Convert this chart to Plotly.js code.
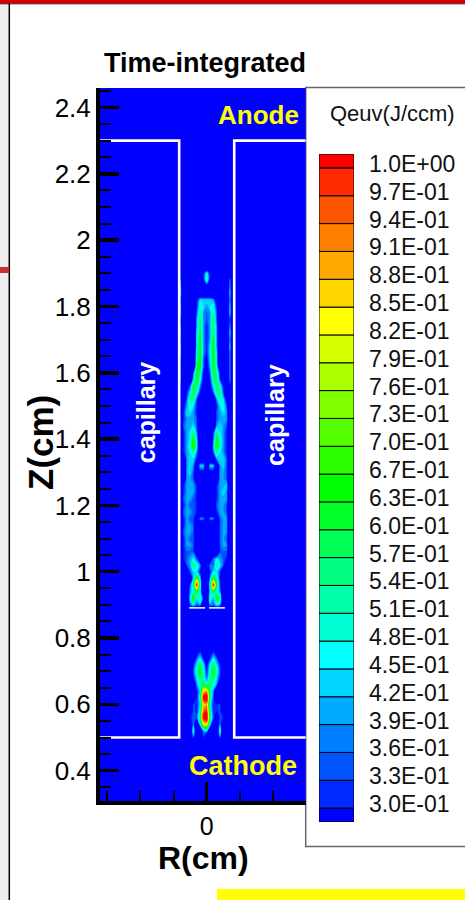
<!DOCTYPE html>
<html><head><meta charset="utf-8">
<script src="https://cdn.plot.ly/plotly-3.0.1.min.js"></script>
<style>html,body{margin:0;padding:0;background:#fff;}#plot{width:465px;height:900px;}</style>
</head><body><div id="plot"></div>
<script>
// ---------------- data ----------------
// radial grid (cm) inside the bore
const rGrid = [-0.09, -0.08, -0.07, -0.06, -0.05, -0.04, -0.03, -0.02, -0.01, 0,
               0.01, 0.02, 0.03, 0.04, 0.05, 0.06, 0.07, 0.08, 0.09];
// frame padding (background everywhere outside the grid)
const rPad = [-0.33, 0.33];
// axial grid (cm), top to bottom (first and last entries are frame padding)
const zGrid = [2.47, 1.92, 1.90, 1.88, 1.86, 1.84, 1.82, 1.80, 1.78, 1.76, 1.74, 1.72, 1.70,
               1.68, 1.66, 1.64, 1.62, 1.60, 1.58, 1.56, 1.54, 1.52, 1.50, 1.48, 1.46,
               1.44, 1.42, 1.40, 1.38, 1.36, 1.34, 1.32, 1.30, 1.28, 1.26, 1.24, 1.22,
               1.20, 1.18, 1.16, 1.14, 1.12, 1.10, 1.08, 1.06, 1.04, 1.02, 1.00, 0.98,
               0.96, 0.94, 0.92, 0.90, 0.88, 0.86, 0.84, 0.82, 0.80, 0.78, 0.76, 0.74,
               0.72, 0.70, 0.68, 0.66, 0.64, 0.62, 0.60, 0.58, 0.56, 0.54, 0.52, 0.50,
               0.48, 0.30];
// Qeuv: one char per node (base-36 digit x 0.05 J/ccm),
// rows follow zGrid, columns follow rGrid
const qRows = [
  "0000000000000000000", // 2.47
  "0000000000000000000", // 1.92
  "000000005a500000000",
  "080000005b500000800",
  "0900000004000000800",
  "0a00000000000000900",
  "0800005999984000800", // 1.82
  "0900006a989a6000900",
  "0900007b878b7000900",
  "0700008c878c7000700",
  "0800008c868c8000800",
  "0900009c868c8000900", // 1.72
  "0800009d868d8000800",
  "0900009d869d8000900",
  "090000ad869d9000800",
  "080000bd759d9000800",
  "080000cd758da000800", // 1.62
  "080007db647cb600800",
  "080009da506bc700800",
  "06007cc84059ca60600",
  "00069ca60007bb70000",
  "0007bb7000008b95000", // 1.52
  "0058a960000069a7000",
  "0069986000007898000",
  "0068887000007888000",
  "0078897000008987000",
  "00689b800006b986000", // 1.42
  "00689d900007da86000",
  "0068aea00008ea86000",
  "00689b800007b986000",
  "0008996000008997000",
  "0008980990990897000", // 1.32
  "0008970550550887000",
  "0008870000000887000",
  "0068886000006889000",
  "0068886000006898000",
  "0078876000006888000", // 1.22
  "0068776000007887000",
  "0078876000006887000",
  "0068770880880788000",
  "0068870000000788000",
  "0078870000000788000", // 1.12
  "0068770000000787000",
  "0068870000000788000",
  "0067770000000777000",
  "0067897000079876000",
  "00078ba80087b970000", // 1.02
  "0000799600699700000",
  "000009e9008db600000",
  "00007blb00alc700000",
  "00008aca009ca800000",
  "00009e9b60b8dc00000", // 0.92
  "0000797800879800000",
  "0000000000000000000",
  "0000000000000000000",
  "0000000000000000000",
  "0000000000000000000", // 0.82
  "0000000000000000000",
  "0000000000000000000",
  "0000000600060000000",
  "0000007960697000000",
  "0000069c959c9600000", // 0.72
  "000007ada6ada700000",
  "0000069cb7bc9600000",
  "0000008acaca8000000",
  "00000069hib80000000",
  "0000006almb70000000", // 0.62
  "00000769hia66700000",
  "0000076ajkb66700000",
  "0000677blmb70760000",
  "00000809gha00800000",
  "00000b0089000b00000", // 0.52
  "0000070060000700000",
  "0000000000000000000",
  "0000000000000000000"  // 0.30
];
// contour levels of the legend
const levelStart = 0.30, levelEnd = 1.00, levelCount = 24;
const levelLabels = ['3.0E-01','3.3E-01','3.6E-01','3.9E-01','4.2E-01','4.5E-01','4.8E-01','5.1E-01',
  '5.4E-01','5.7E-01','6.0E-01','6.3E-01','6.7E-01','7.0E-01','7.3E-01','7.6E-01','7.9E-01',
  '8.2E-01','8.5E-01','8.8E-01','9.1E-01','9.4E-01','9.7E-01','1.0E+00'];
const bandColors = ['#0000FF','#002AFF','#0055FF','#0080FF','#00AAFF','#00D5FF','#00FFFF','#00FFD5',
  '#00FFAA','#00FF80','#00FF55','#00FF2A','#00FF00','#2AFF00','#55FF00','#80FF00','#AAFF00',
  '#D5FF00','#FFFF00','#FFD500','#FFAA00','#FF8000','#FF5500','#FF2A00','#FF0000'];
// capillary outline (white) and the two short white marks
const capLeftR = [-0.40, -0.083, -0.083, -0.40];
const capLeftZ = [2.30, 2.30, 0.50, 0.50];
const capRightR = [0.40, 0.083, 0.083, 0.40];
const capRightZ = [2.30, 2.30, 0.50, 0.50];
const markR = [-0.053, -0.005, null, 0.007, 0.055];
const markZ = [0.891, 0.891, null, 0.891, 0.891];

// ---------------- build ----------------
qRows.forEach((s, i) => { if (s.length !== rGrid.length) throw new Error('row ' + i + ' has ' + s.length); });
if (qRows.length !== zGrid.length) throw new Error('rows ' + qRows.length + ' vs ' + zGrid.length);

const FONT = 'Liberation Sans, Arial, Helvetica, sans-serif';
const W = 465, H = 900, ML = 100, MR = 0, MT = 80, MB = 70;
const PW = W - ML - MR, PH = H - MT - MB;
const px = v => (v - ML) / PW;
const py = v => (H - MB - v) / PH;

const xAll = [rPad[0]].concat(rGrid, [rPad[1]]);
const zAsc = zGrid.slice().reverse();
const zMatrix = qRows.slice().reverse().map(s => [0].concat(s.split('').map(ch => parseInt(ch, 36) * 0.05), [0]));

const step = (levelEnd - levelStart) / (levelCount - 1);
const levels = levelLabels.map((_, k) => levelStart + k * step);
const colorscale = bandColors.map((c, k) => [k / (bandColors.length - 1), c]);

const swBase = [levelStart - step / 2].concat(levels);
const swTop = levels.concat([levelEnd + step / 2]);
const swH = swTop.map((t, i) => t - swBase[i]);

const traces = [
  {
    type: 'contour', x: xAll, y: zAsc, z: zMatrix,
    autocontour: false,
    contours: {start: levelStart, end: levelEnd, size: step, coloring: 'fill', showlines: false},
    line: {width: 0, smoothing: 1},
    colorscale: colorscale, showscale: false, hoverinfo: 'skip', xaxis: 'x', yaxis: 'y'
  },
  {type: 'scatter', mode: 'lines', x: capLeftR, y: capLeftZ, line: {color: '#FFFFFF', width: 2.6},
   hoverinfo: 'skip', showlegend: false, xaxis: 'x', yaxis: 'y'},
  {type: 'scatter', mode: 'lines', x: capRightR, y: capRightZ, line: {color: '#FFFFFF', width: 2.6},
   hoverinfo: 'skip', showlegend: false, xaxis: 'x', yaxis: 'y'},
  {type: 'scatter', mode: 'lines', x: markR, y: markZ, line: {color: '#FFFFFF', width: 1.5},
   connectgaps: false, hoverinfo: 'skip', showlegend: false, xaxis: 'x', yaxis: 'y'},
  {type: 'bar', x: swH.map(() => 0), y: swH, base: swBase, width: 1,
   marker: {color: bandColors, line: {color: '#000000', width: 1}},
   hoverinfo: 'skip', showlegend: false, xaxis: 'x2', yaxis: 'y2'}
];

const layout = {
  width: W, height: H,
  margin: {l: ML, r: MR, t: MT, b: MB, pad: 0},
  paper_bgcolor: '#FFFFFF', plot_bgcolor: '#FFFFFF',
  font: {family: FONT, color: '#000000'},
  showlegend: false,
  xaxis: {
    domain: [0, px(305.7)], range: [-0.3218, 0.2986], anchor: 'y',
    showgrid: false, zeroline: false, showline: true, linewidth: 4, linecolor: '#000',
    ticks: 'inside', ticklen: 19, tickwidth: 3.5, tickcolor: '#000',
    tickmode: 'linear', tick0: 0, dtick: 1, tickfont: {size: 25, family: FONT},
    minor: {tickmode: 'linear', tick0: 0, dtick: 0.1, ticks: 'inside', ticklen: 10, tickwidth: 2, tickcolor: '#000', showgrid: false},
    title: {text: ''},
    fixedrange: true
  },
  yaxis: {
    domain: [py(801), py(88)], range: [0.3086, 2.4588], anchor: 'x',
    showgrid: false, zeroline: false, showline: true, linewidth: 4, linecolor: '#000',
    ticks: 'inside', ticklen: 19, tickwidth: 3.5, tickcolor: '#000',
    tickmode: 'linear', tick0: 0.4, dtick: 0.2, tickfont: {size: 26, family: FONT},
    minor: {tickmode: 'linear', tick0: 0.4, dtick: 0.05, ticks: 'inside', ticklen: 11, tickwidth: 2, tickcolor: '#000', showgrid: false},
    title: {text: ''},
    fixedrange: true
  },
  xaxis2: {
    domain: [px(319), px(354)], range: [-0.5, 0.5], anchor: 'y2',
    showgrid: false, zeroline: false, showline: false, showticklabels: false, ticks: '', fixedrange: true
  },
  yaxis2: {
    domain: [py(822), py(154)], range: [levelStart - step / 2, levelEnd + step / 2], anchor: 'x2', side: 'right',
    showgrid: false, zeroline: false, showline: false, ticks: '',
    tickmode: 'array', tickvals: levels, ticktext: levelLabels,
    tickfont: {size: 23, family: FONT, color: '#111'}, ticklabelstandoff: 14, ticklabelshift: -4,
    fixedrange: true
  },
  shapes: [
    // legend frame
    {type: 'rect', xref: 'paper', yref: 'paper', x0: px(305.7), x1: px(470), y0: py(846.5), y1: py(87.5),
     fillcolor: '#FFFFFF', line: {color: '#666666', width: 1.5}, layer: 'below'},
    // slide decorations around the figure
    {type: 'rect', xref: 'paper', yref: 'paper', x0: px(0), x1: px(9), y0: py(900), y1: py(3),
     fillcolor: '#EEEEEE', line: {width: 0}, layer: 'below'},
    {type: 'rect', xref: 'paper', yref: 'paper', x0: px(0), x1: px(470), y0: py(3.5), y1: py(-2),
     fillcolor: '#D40000', line: {width: 0}, layer: 'below'},
    {type: 'line', xref: 'paper', yref: 'paper', x0: px(0), x1: px(470), y0: py(3.8), y1: py(3.8),
     line: {color: '#5A0000', width: 1}},
    {type: 'line', xref: 'paper', yref: 'paper', x0: px(9.3), x1: px(9.3), y0: py(903), y1: py(3.5),
     line: {color: '#000000', width: 1.5}},
    {type: 'rect', xref: 'paper', yref: 'paper', x0: px(0), x1: px(9), y0: py(273), y1: py(267),
     fillcolor: '#C83030', line: {width: 0}},
    {type: 'rect', xref: 'paper', yref: 'paper', x0: px(217), x1: px(470), y0: py(903), y1: py(889),
     fillcolor: '#FFFF00', line: {width: 0}}
  ],
  annotations: [
    {xref: 'paper', yref: 'paper', x: px(205), y: py(63), text: 'Time-integrated', showarrow: false,
     xanchor: 'center', yanchor: 'middle', font: {size: 27, family: FONT, weight: 'bold', color: '#000'}},
    {xref: 'paper', yref: 'paper', x: px(40), y: py(443), text: 'Z(cm)', showarrow: false, textangle: -90,
     xanchor: 'center', yanchor: 'middle', font: {size: 35, family: FONT, weight: 'bold', color: '#000'}},
    {xref: 'paper', yref: 'paper', x: px(203.5), y: py(858), text: 'R(cm)', showarrow: false,
     xanchor: 'center', yanchor: 'middle', font: {size: 32, family: FONT, weight: 'bold', color: '#000'}},
    {xref: 'paper', yref: 'paper', x: px(392.8), y: py(113), text: 'Qeuv(J/ccm)', showarrow: false,
     xanchor: 'center', yanchor: 'middle', font: {size: 22, family: FONT, color: '#111'}},
    {xref: 'x', yref: 'y', x: 0.155, y: 2.377, text: 'Anode', showarrow: false,
     xanchor: 'center', yanchor: 'middle', font: {size: 26, family: FONT, weight: 'bold', color: '#FFFF00'}},
    {xref: 'x', yref: 'y', x: 0.108, y: 0.414, text: 'Cathode', showarrow: false,
     xanchor: 'center', yanchor: 'middle', font: {size: 27, family: FONT, weight: 'bold', color: '#FFFF00'}},
    {xref: 'x', yref: 'y', x: -0.182, y: 1.482, text: 'capillary', showarrow: false, textangle: -90,
     xanchor: 'center', yanchor: 'middle', font: {size: 25, family: FONT, weight: 'bold', color: '#FFFFFF'}},
    {xref: 'x', yref: 'y', x: 0.206, y: 1.473, text: 'capillary', showarrow: false, textangle: -90,
     xanchor: 'center', yanchor: 'middle', font: {size: 25, family: FONT, weight: 'bold', color: '#FFFFFF'}}
  ]
};

Plotly.newPlot('plot', traces, layout, {displayModeBar: false, staticPlot: true});
</script></body></html>
